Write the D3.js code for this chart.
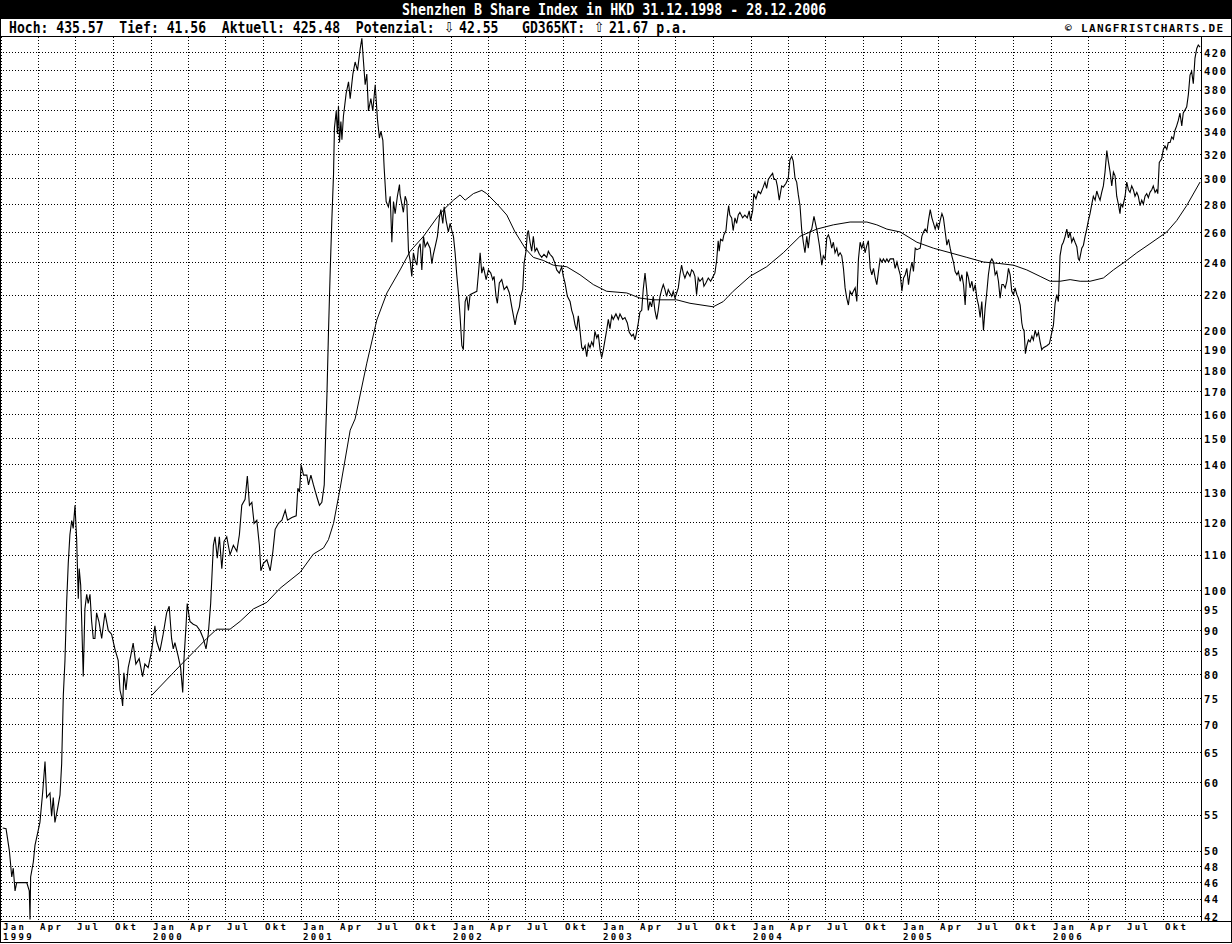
<!DOCTYPE html>
<html><head><meta charset="utf-8">
<script src="https://cdn.jsdelivr.net/npm/d3@7"></script>
<style>body{margin:0;background:#fff}svg{display:block}</style>
</head><body>
<svg id="c" width="1232" height="944"></svg>
<script>
// ---------------- DATA ----------------
const titleText = "Shenzhen B Share Index in HKD 31.12.1998 - 28.12.2006";
const statsLead = "Hoch: 435.57  Tief: 41.56  Aktuell: 425.48  Potenzial:";
const potenzialValue = "42.55";
const gdLabel = "GD365KT:";
const gdValue = "21.67 p.a.";
const arrowDown = "\u21E9", arrowUp = "\u21E7";
const creditText = "\u00A9 LANGFRISTCHARTS.DE";
const yTicks = [42,44,46,48,50,55,60,65,70,75,80,85,90,95,100,110,120,130,140,150,160,170,180,190,200,220,240,260,280,300,320,340,360,380,400,420];
const monthLabels = ["Jan","Apr","Jul","Okt"];
const yearLabels = [1999,2000,2001,2002,2003,2004,2005,2006];

// price: [decimal year, index value]
const price1999 = [[1999.007,53.1],[1999.029,53],[1999.051,50],[1999.067,46.6],[1999.077,47.7],[1999.089,44.9],[1999.100,45.9],[1999.167,45.9],[1999.184,44.9],[1999.189,41.6],[1999.193,46.6],[1999.211,48.5],[1999.222,50.7],[1999.244,52.8],[1999.255,53.9],[1999.273,58.3],[1999.289,63.4],[1999.300,57.6],[1999.322,58.3],[1999.333,54.8],[1999.344,57.6],[1999.355,53.9],[1999.371,55.7],[1999.389,58],[1999.400,63],[1999.411,75.6],[1999.422,82.9],[1999.433,96.6],[1999.444,107.5],[1999.455,116],[1999.467,120.5],[1999.477,118],[1999.489,125.5],[1999.500,114.6],[1999.511,97.8],[1999.517,106],[1999.527,101.4],[1999.544,79.5],[1999.555,95.2],[1999.567,99],[1999.577,96.6],[1999.589,99],[1999.600,92.1],[1999.611,88],[1999.622,88],[1999.633,94.2],[1999.649,92],[1999.667,88],[1999.689,94.2],[1999.711,89.9],[1999.733,89],[1999.755,85.6],[1999.777,83],[1999.789,76.7],[1999.800,75.2],[1999.807,73.5],[1999.815,80.3],[1999.829,76.7],[1999.844,81.4],[1999.860,83.9],[1999.877,86.9],[1999.895,82.2],[1999.917,83.4],[1999.940,79.5],[1999.955,82.2],[1999.977,81.4]];
const price2000 = [[2000.000,85],[2000.022,91],[2000.033,87.4],[2000.055,85],[2000.077,89],[2000.100,94.2],[2000.117,95.9],[2000.133,88],[2000.144,85.6],[2000.155,87],[2000.177,83.9],[2000.193,81.4],[2000.207,76.2],[2000.215,83],[2000.229,91],[2000.237,96.6],[2000.255,92.1],[2000.277,91.4],[2000.300,91],[2000.322,89.9],[2000.344,88],[2000.362,85.6],[2000.377,89],[2000.393,96.6],[2000.411,112.8],[2000.422,115.4],[2000.437,109],[2000.451,115.4],[2000.467,106],[2000.482,114],[2000.500,115.4],[2000.522,110],[2000.544,112.8],[2000.567,111],[2000.584,116],[2000.600,125.5],[2000.622,127.5],[2000.637,135.7],[2000.651,125.5],[2000.667,126.5],[2000.682,119.6],[2000.700,120.6],[2000.717,112.8],[2000.727,105.4],[2000.744,107.5],[2000.767,108.5],[2000.789,105.4],[2000.807,111],[2000.822,117.7],[2000.844,119.6],[2000.867,120.6],[2000.889,123.8],[2000.904,120.6],[2000.933,121.5],[2000.962,122],[2000.973,131.3],[2000.984,130],[2000.995,139.8]];
const price2001 = [[2001.011,136],[2001.033,136],[2001.044,132.5],[2001.060,136],[2001.077,132.5],[2001.100,128.3],[2001.117,125.5],[2001.133,126.5],[2001.149,132.5],[2001.155,144.5],[2001.167,168.5],[2001.177,198.2],[2001.189,235],[2001.200,269.3],[2001.211,303.3],[2001.217,343],[2001.229,358.8],[2001.237,337.7],[2001.244,364],[2001.251,330],[2001.260,349],[2001.267,332.5],[2001.277,354],[2001.295,376],[2001.311,388],[2001.322,371],[2001.340,396],[2001.355,409],[2001.371,400],[2001.389,424],[2001.400,435.6],[2001.411,409],[2001.422,385],[2001.433,396],[2001.444,359],[2001.460,371],[2001.473,359],[2001.489,385],[2001.504,351],[2001.517,334],[2001.527,340],[2001.540,332],[2001.549,308],[2001.562,282],[2001.577,278],[2001.589,286],[2001.600,253],[2001.611,282],[2001.622,273],[2001.637,286],[2001.651,295],[2001.655,287],[2001.677,274],[2001.689,286],[2001.700,282],[2001.711,247],[2001.722,241],[2001.733,231],[2001.744,246],[2001.755,241],[2001.767,238],[2001.777,249],[2001.789,252],[2001.800,235],[2001.811,257],[2001.822,250],[2001.837,253],[2001.855,249],[2001.867,239],[2001.877,245],[2001.889,250],[2001.904,257],[2001.917,270],[2001.927,276],[2001.940,266],[2001.949,278],[2001.962,268],[2001.977,260],[2001.989,266]];
const price2002 = [[2002.000,261],[2002.011,257],[2002.022,246],[2002.033,232],[2002.044,221],[2002.055,208],[2002.067,192],[2002.077,190],[2002.089,216],[2002.100,219],[2002.111,211],[2002.122,220],[2002.144,221],[2002.167,222],[2002.177,232],[2002.189,246],[2002.200,233],[2002.211,237],[2002.229,229],[2002.244,235],[2002.260,233],[2002.273,229],[2002.282,231],[2002.295,219],[2002.304,215],[2002.317,227],[2002.333,229],[2002.349,223],[2002.367,225],[2002.384,221],[2002.400,213],[2002.411,208],[2002.422,203],[2002.433,208],[2002.451,213],[2002.460,219],[2002.473,223],[2002.482,239],[2002.495,247],[2002.504,259],[2002.511,261],[2002.522,253],[2002.533,247],[2002.544,257],[2002.555,247],[2002.567,249],[2002.584,245],[2002.600,243],[2002.615,245],[2002.633,243],[2002.644,247],[2002.655,245],[2002.673,243],[2002.689,239],[2002.700,235],[2002.717,233],[2002.733,237],[2002.744,231],[2002.755,227],[2002.771,219],[2002.789,216],[2002.800,211],[2002.811,208],[2002.822,203],[2002.833,200],[2002.844,208],[2002.855,200],[2002.867,191],[2002.877,190],[2002.889,192],[2002.900,186.5],[2002.911,193],[2002.922,191],[2002.933,194],[2002.944,192],[2002.955,199.5],[2002.967,196],[2002.977,198],[2002.989,190]];
const price2003 = [[2003.000,186],[2003.011,190],[2003.022,195],[2003.033,200],[2003.044,206],[2003.055,201],[2003.067,208],[2003.077,206],[2003.095,209],[2003.111,206],[2003.122,209],[2003.140,206],[2003.155,207],[2003.171,204],[2003.184,199],[2003.200,197],[2003.211,198],[2003.222,195],[2003.233,199],[2003.244,204],[2003.255,210],[2003.267,211],[2003.277,223],[2003.289,233],[2003.300,223],[2003.311,211],[2003.322,216],[2003.333,213],[2003.344,219],[2003.355,211],[2003.367,206],[2003.377,211],[2003.389,219],[2003.400,223],[2003.411,226],[2003.422,223],[2003.433,219],[2003.444,223],[2003.455,221],[2003.467,219],[2003.477,222],[2003.489,218],[2003.500,221],[2003.511,224],[2003.522,232],[2003.533,238],[2003.544,233],[2003.555,230],[2003.571,234],[2003.589,231],[2003.600,235],[2003.611,234],[2003.622,231],[2003.633,220],[2003.644,230],[2003.655,228],[2003.673,230],[2003.682,225],[2003.695,227],[2003.711,230],[2003.727,228],[2003.744,231],[2003.755,233],[2003.767,241],[2003.777,254],[2003.784,247],[2003.793,255],[2003.807,254],[2003.815,258],[2003.829,261],[2003.837,270],[2003.847,279],[2003.855,272],[2003.867,270],[2003.877,261],[2003.889,270],[2003.900,266],[2003.911,272],[2003.922,274],[2003.940,270],[2003.955,272],[2003.971,270],[2003.984,275],[2003.993,268]];
const price2004 = [[2004.007,275],[2004.015,288],[2004.029,284],[2004.044,290],[2004.060,288],[2004.077,293],[2004.089,297],[2004.100,292],[2004.111,299],[2004.127,302],[2004.140,304],[2004.149,299],[2004.162,299],[2004.171,294],[2004.184,283],[2004.200,294],[2004.211,293],[2004.229,296],[2004.244,300],[2004.255,315],[2004.267,318],[2004.277,314],[2004.289,300],[2004.300,297],[2004.311,287],[2004.322,279],[2004.333,262],[2004.344,253],[2004.355,246],[2004.367,257],[2004.377,249],[2004.389,260],[2004.400,262],[2004.415,271],[2004.429,264],[2004.437,260],[2004.451,251],[2004.467,238],[2004.477,244],[2004.489,242],[2004.500,256],[2004.511,258],[2004.522,255],[2004.533,249],[2004.544,253],[2004.555,246],[2004.567,249],[2004.577,244],[2004.589,246],[2004.600,244],[2004.611,236],[2004.622,224],[2004.633,218],[2004.644,214],[2004.655,222],[2004.667,220],[2004.677,222],[2004.689,224],[2004.700,216],[2004.711,242],[2004.722,253],[2004.733,249],[2004.744,253],[2004.755,246],[2004.767,251],[2004.777,254],[2004.789,236],[2004.800,232],[2004.811,236],[2004.822,230],[2004.833,226],[2004.844,234],[2004.855,242],[2004.867,240],[2004.877,242],[2004.889,240],[2004.900,242],[2004.911,240],[2004.922,242],[2004.944,242],[2004.955,236],[2004.967,240],[2004.977,236],[2004.989,232]];
const price2005 = [[2005.000,222],[2005.011,230],[2005.022,232],[2005.033,236],[2005.044,226],[2005.055,234],[2005.067,240],[2005.077,234],[2005.089,249],[2005.100,248],[2005.122,249],[2005.133,257],[2005.144,260],[2005.155,262],[2005.167,260],[2005.177,268],[2005.189,276],[2005.200,270],[2005.211,266],[2005.222,262],[2005.233,266],[2005.244,262],[2005.255,268],[2005.267,273],[2005.277,270],[2005.289,260],[2005.300,251],[2005.311,255],[2005.322,249],[2005.333,244],[2005.344,240],[2005.355,234],[2005.367,232],[2005.377,234],[2005.389,228],[2005.400,232],[2005.411,226],[2005.422,214],[2005.433,234],[2005.444,230],[2005.455,224],[2005.467,228],[2005.477,222],[2005.489,226],[2005.500,218],[2005.511,214],[2005.522,207],[2005.533,216],[2005.544,200],[2005.555,212],[2005.567,222],[2005.577,232],[2005.589,240],[2005.600,242],[2005.611,240],[2005.622,232],[2005.633,234],[2005.644,228],[2005.655,218],[2005.667,226],[2005.677,226],[2005.689,224],[2005.700,228],[2005.711,236],[2005.722,232],[2005.733,222],[2005.744,220],[2005.755,224],[2005.767,220],[2005.777,218],[2005.789,214],[2005.800,204],[2005.807,201],[2005.815,200],[2005.824,188],[2005.833,192],[2005.844,195],[2005.855,194],[2005.867,197],[2005.877,195],[2005.889,200],[2005.900,197],[2005.911,199],[2005.922,194],[2005.933,190],[2005.944,191],[2005.967,192],[2005.984,193]];
const price2006 = [[2006.000,199],[2006.011,203],[2006.022,215],[2006.033,220],[2006.044,216],[2006.055,244],[2006.067,251],[2006.077,253],[2006.089,257],[2006.100,262],[2006.111,256],[2006.122,260],[2006.133,253],[2006.144,256],[2006.155,253],[2006.167,250],[2006.177,242],[2006.184,241],[2006.200,249],[2006.211,251],[2006.222,257],[2006.233,262],[2006.244,268],[2006.255,273],[2006.267,280],[2006.277,286],[2006.289,283],[2006.300,290],[2006.311,286],[2006.322,283],[2006.333,289],[2006.344,294],[2006.355,305],[2006.367,323],[2006.377,314],[2006.389,305],[2006.400,294],[2006.411,305],[2006.422,302],[2006.433,286],[2006.444,280],[2006.455,273],[2006.461,280],[2006.473,278],[2006.489,286],[2006.500,297],[2006.511,291],[2006.522,289],[2006.533,294],[2006.544,291],[2006.555,286],[2006.567,289],[2006.577,286],[2006.589,279],[2006.600,283],[2006.611,280],[2006.622,286],[2006.633,288],[2006.644,285],[2006.655,289],[2006.667,291],[2006.677,294],[2006.689,289],[2006.700,291],[2006.707,288],[2006.717,313],[2006.733,316],[2006.744,324],[2006.755,327],[2006.767,324],[2006.777,330],[2006.789,330],[2006.800,335],[2006.811,333],[2006.822,341],[2006.833,345],[2006.844,350],[2006.855,357],[2006.867,345],[2006.877,357],[2006.889,360],[2006.900,363],[2006.911,375],[2006.922,395],[2006.933,399],[2006.944,386],[2006.955,413],[2006.967,424],[2006.977,428],[2006.989,425.5]];

// GD365KT moving average: [decimal year, value]
const maPoints = [[2000.000,75.6],[2000.144,80.3],[2000.200,82.2],[2000.277,84.8],[2000.367,88],[2000.433,90.2],[2000.522,90.2],[2000.589,92.1],[2000.677,95.2],[2000.767,96.9],[2000.855,100.6],[2000.989,105],[2001.077,110.2],[2001.144,112],[2001.177,114.5],[2001.211,119.6],[2001.255,131.3],[2001.322,153.3],[2001.355,158],[2001.433,183.3],[2001.500,205.7],[2001.567,221],[2001.655,235],[2001.722,247],[2001.811,257],[2001.900,270],[2001.955,277],[2002.011,283],[2002.055,287],[2002.089,283],[2002.144,288],[2002.200,290.5],[2002.233,288],[2002.311,279],[2002.367,272],[2002.422,260],[2002.489,249],[2002.544,243],[2002.611,241],[2002.677,238],[2002.767,237],[2002.855,232],[2002.944,226],[2003.033,222],[2003.167,221],[2003.255,218],[2003.344,217],[2003.500,217],[2003.589,215],[2003.744,213],[2003.811,216],[2003.877,222],[2003.989,231],[2004.100,237],[2004.211,246],[2004.322,257],[2004.433,262],[2004.544,265],[2004.655,267],[2004.767,267],[2004.833,265],[2004.900,262],[2004.989,260],[2005.100,253],[2005.211,249],[2005.322,246],[2005.433,243],[2005.544,240],[2005.655,239],[2005.744,238],[2005.833,235],[2005.922,231],[2005.989,228],[2006.055,228],[2006.122,229],[2006.189,228],[2006.255,228],[2006.344,230],[2006.411,235],[2006.500,241],[2006.567,246],[2006.655,252],[2006.767,260],[2006.833,268],[2006.900,279],[2006.989,297]];

// ---------------- DRAW ----------------
const W = 1232, H = 944, PL = 0, PR = 1201, PT = 37, PB = 921;
const svg = d3.select("#c");
svg.append("rect").attr("width", W).attr("height", H).attr("fill", "#fff");

const toDate = t => { const yr = Math.floor(t + 1e-9); const s = new Date(yr, 0, 1), e = new Date(yr + 1, 0, 1); return new Date(+s + (t - yr) * (e - s)); };
const x = d3.scaleTime().domain([new Date(1999, 0, 1), new Date(2007, 0, 1)]).range([1.7, 1201.7]);
const y = d3.scaleLog().domain([41.44, 437.2]).range([PB, PT]);

const monoFont = "'DejaVu Sans Mono', 'Liberation Mono', monospace";

// title bar
svg.append("rect").attr("x", 0).attr("y", 0).attr("width", W).attr("height", 18).attr("fill", "#000");
svg.append("g").attr("transform", "translate(402,15) scale(1,1.13)")
  .append("text").attr("fill", "#fff")
  .attr("font-family", monoFont).attr("font-weight", "bold").attr("font-size", 13.3)
  .text(titleText);

// header stats, as separate pieces (natural widths, no overlap)
const headerPieces = [
  {t: statsLead, x: 9, mono: true},
  {t: arrowDown, x: 444, mono: false},
  {t: potenzialValue, x: 459, mono: true},
  {t: gdLabel, x: 522, mono: true},
  {t: arrowUp, x: 594, mono: false},
  {t: gdValue, x: 609, mono: true}
];
headerPieces.forEach(p => {
  const g = svg.append("g").attr("transform", `translate(${p.x},33) scale(1,1.15)`);
  const t = g.append("text").attr("fill", "#000").style("white-space", "pre").text(p.t);
  if (p.mono) {
    t.attr("font-family", monoFont).attr("font-weight", "bold").attr("font-size", 13.1);
  } else {
    t.attr("font-family", "'DejaVu Sans'").attr("font-size", 12).attr("y", -1).attr("opacity", 0.99);
  }
});
svg.append("text").attr("x", 1065).attr("y", 32).attr("fill", "#000")
  .attr("font-family", monoFont).attr("font-weight", "bold").attr("font-size", 11)
  .attr("letter-spacing", 1.35).text(creditText);

// gridlines - horizontal
const grid = svg.append("g").attr("stroke", "#000").attr("stroke-width", 1)
  .attr("stroke-dasharray", "1,2").attr("shape-rendering", "crispEdges");
grid.selectAll("line.h").data(yTicks).join("line").attr("class", "h")
  .attr("x1", PL).attr("x2", PR)
  .attr("y1", d => Math.round(y(d)) + 0.5).attr("y2", d => Math.round(y(d)) + 0.5);
// gridlines - vertical (quarters)
const quarters = d3.timeMonth.every(3).range(new Date(1999, 0, 1), new Date(2006, 11, 1));
grid.selectAll("line.v").data(quarters).join("line").attr("class", "v")
  .attr("y1", PT).attr("y2", PB)
  .attr("x1", d => Math.round(x(d)) - 0.5).attr("x2", d => Math.round(x(d)) - 0.5);

// lines
const clip = svg.append("clipPath").attr("id", "plotclip");
clip.append("rect").attr("x", PL).attr("y", PT).attr("width", PR - PL).attr("height", PB - PT);
const priceAll = [].concat(price1999, price2000, price2001, price2002, price2003, price2004, price2005, price2006);
const line = d3.line().x(d => x(toDate(d[0]))).y(d => y(d[1]));
const lines = svg.append("g").attr("clip-path", "url(#plotclip)");
lines.append("path").datum(maPoints).attr("d", line).attr("fill", "none").attr("stroke", "#000").attr("stroke-width", 1);
lines.append("path").datum(priceAll).attr("d", line).attr("fill", "none").attr("stroke", "#000").attr("stroke-width", 1.1).attr("stroke-linejoin", "miter");

// right axis
const yAxis = d3.axisRight(y).tickValues(yTicks).tickSize(0).tickPadding(3).tickFormat(d3.format("d"));
const ya = svg.append("g").attr("transform", `translate(${PR},0)`).call(yAxis);
ya.select(".domain").remove();
ya.selectAll("text").attr("font-family", monoFont).attr("font-weight", "bold").attr("font-size", 10.5)
  .attr("letter-spacing", 1.5).attr("fill", "#000").attr("dy", "0.4em");

// bottom axis: month labels
const xAxis = d3.axisBottom(x).tickValues(quarters).tickSize(0)
  .tickFormat(d => monthLabels[Math.floor(d.getMonth() / 3)]);
const xa = svg.append("g").attr("transform", `translate(0,${PB})`).call(xAxis);
xa.select(".domain").remove();
xa.selectAll(".tick").attr("transform", d => `translate(${Math.round(x(d)) - 0.5},0)`);
xa.selectAll("text").attr("text-anchor", "start").attr("x", 1.5).attr("y", 8.6).attr("dy", 0)
  .attr("font-family", monoFont).attr("font-weight", "bold").attr("font-size", 9)
  .attr("letter-spacing", 2.3).attr("fill", "#000");
// year labels below January
const yearDates = yearLabels.map(v => new Date(v, 0, 1));
svg.append("g").selectAll("text").data(yearDates).join("text")
  .attr("x", d => Math.round(x(d)) + 1).attr("y", 939.6)
  .attr("font-family", monoFont).attr("font-weight", "bold").attr("font-size", 9)
  .attr("letter-spacing", 2.3).attr("fill", "#000")
  .text(d => d.getFullYear());

// frame lines
const fr = svg.append("g").attr("stroke", "#000").attr("stroke-width", 1).attr("fill", "none").attr("shape-rendering", "crispEdges");
fr.append("rect").attr("x", 0.5).attr("y", 18.5).attr("width", W - 1).attr("height", 924);
fr.append("line").attr("x1", 0).attr("x2", W).attr("y1", 36.5).attr("y2", 36.5);
fr.append("line").attr("x1", 0).attr("x2", W).attr("y1", PB + 0.5).attr("y2", PB + 0.5);
fr.append("line").attr("x1", PR + 0.5).attr("x2", PR + 0.5).attr("y1", PT).attr("y2", PB);
</script>
</body></html>
